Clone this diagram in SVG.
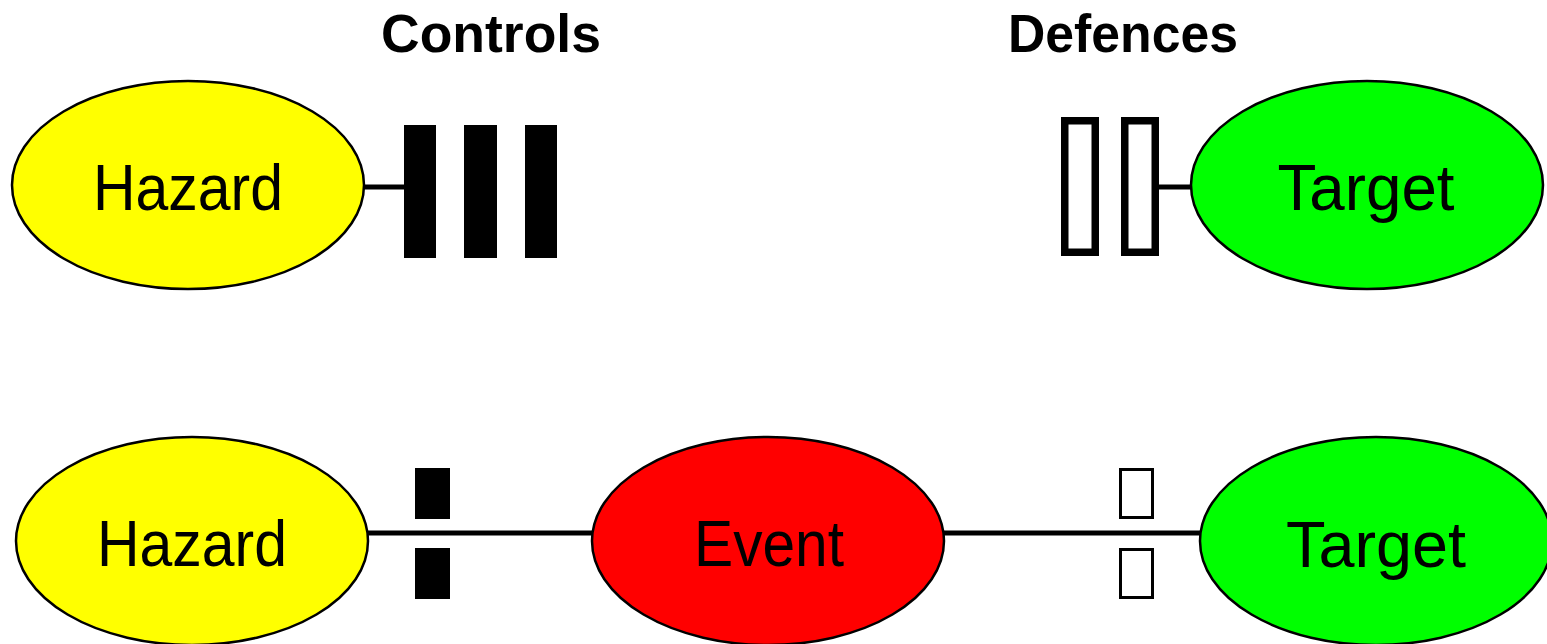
<svg xmlns="http://www.w3.org/2000/svg" width="1547" height="644" viewBox="0 0 1547 644">
<style>
.node ellipse{stroke:#000;stroke-width:2.5}
.lbl{font-family:"Liberation Sans",Arial,sans-serif;font-size:64px;fill:#000;text-anchor:middle}
.title{font-family:"Liberation Sans",Arial,sans-serif;font-size:53px;font-weight:bold;fill:#000;text-anchor:middle}
.conn line{stroke:#000;stroke-width:5}
.solid{fill:#000}
.hollow{fill:#fff;stroke:#000}
</style>
<rect width="1547" height="644" fill="#fff"/>
<g id="titles">
<text class="title" x="491" y="52" textLength="220" lengthAdjust="spacingAndGlyphs">Controls</text>
<text class="title" x="1123" y="52" textLength="230" lengthAdjust="spacingAndGlyphs">Defences</text>
</g>
<g class="conn" id="connectors">
<line x1="360" y1="187" x2="404" y2="187"/>
<line x1="1159" y1="187" x2="1192" y2="187"/>
<line x1="366" y1="533" x2="594" y2="533"/>
<line x1="942" y1="533" x2="1202" y2="533"/>
</g>
<g id="controls-top">
<rect class="solid" x="404" y="125" width="32" height="133"/>
<rect class="solid" x="464" y="125" width="33" height="133"/>
<rect class="solid" x="525" y="125" width="32" height="133"/>
</g>
<g id="defences-top">
<rect class="hollow" x="1064.75" y="120.75" width="30.5" height="131.5" stroke-width="7.5"/>
<rect class="hollow" x="1124.75" y="120.75" width="30.5" height="131.5" stroke-width="7.5"/>
</g>
<g id="controls-bottom">
<rect class="solid" x="415" y="468" width="35" height="51"/>
<rect class="solid" x="415" y="548" width="35" height="51"/>
</g>
<g id="defences-bottom">
<rect class="hollow" x="1120.5" y="469.5" width="32" height="48" stroke-width="3"/>
<rect class="hollow" x="1120.5" y="549.5" width="32" height="48" stroke-width="3"/>
</g>
<g class="node" id="hazard-top">
<ellipse cx="188" cy="185" rx="176" ry="104" fill="#ffff00"/>
<text class="lbl" x="188" y="210" textLength="190" lengthAdjust="spacingAndGlyphs">Hazard</text>
</g>
<g class="node" id="target-top">
<ellipse cx="1367" cy="185" rx="176" ry="104" fill="#00ff00"/>
<text class="lbl" x="1366" y="210" textLength="177" lengthAdjust="spacingAndGlyphs">Target</text>
</g>
<g class="node" id="hazard-bottom">
<ellipse cx="192" cy="541" rx="176" ry="104" fill="#ffff00"/>
<text class="lbl" x="192" y="566" textLength="190" lengthAdjust="spacingAndGlyphs">Hazard</text>
</g>
<g class="node" id="event">
<ellipse cx="768" cy="541" rx="176" ry="104" fill="#ff0000"/>
<text class="lbl" x="769" y="566" textLength="150" lengthAdjust="spacingAndGlyphs">Event</text>
</g>
<g class="node" id="target-bottom">
<ellipse cx="1376" cy="541" rx="176" ry="104" fill="#00ff00"/>
<text class="lbl" x="1376" y="567" textLength="180" lengthAdjust="spacingAndGlyphs">Target</text>
</g>
</svg>
